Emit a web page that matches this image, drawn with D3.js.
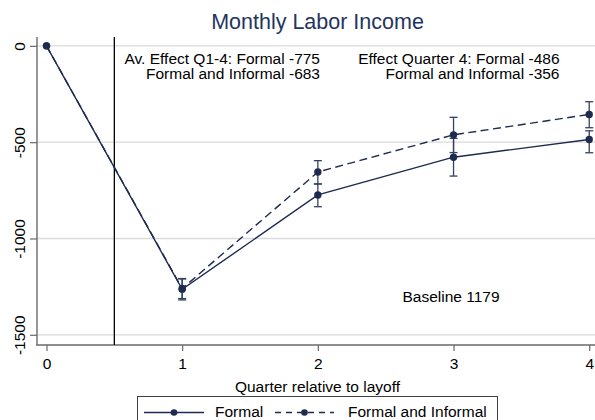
<!DOCTYPE html>
<html>
<head>
<meta charset="utf-8">
<script src="https://cdn.jsdelivr.net/npm/d3@7/dist/d3.min.js"></script>
<style>
  html, body { margin: 0; padding: 0; background: #fff; }
  svg { display: block; font-family: "Liberation Sans", Arial, sans-serif; }
</style>
</head>
<body>
<div id="graph"></div>
<script>
// data
const quarters = [0, 1, 2, 3, 4];
const xTicks = [0, 1, 2, 3, 4];
const yTicks = [0, -500, -1000, -1500];
const seriesNames = ["Formal", "Formal and Informal"];
const formal   = [0, -1264, -774, -578, -486];
const formalLo = [0, -1319, -835, -676, -555];
const formalHi = [0, -1210, -717, -480, -441];
const both     = [0, -1260, -655, -462, -356];
const bothLo   = [0, -1312, -717, -554, -425];
const bothHi   = [0, -1208, -596, -371, -290];
const titleText = "Monthly Labor Income";
const xTitle = "Quarter relative to layoff";
const noteLeft = ["Av. Effect Q1-4: Formal -775", "Formal and Informal -683"];
const noteRight = ["Effect Quarter 4: Formal -486", "Formal and Informal -356"];
const baselineNote = "Baseline 1179";
const layoffLine = 0.5;

const width = 595, height = 420;
const margin = { top: 37, right: 0, bottom: 75, left: 37 };
const navy = "#1d2b4f";
const fs = 15.5;
const fontFam = '"Liberation Sans", Arial, sans-serif';

const svg = d3.select("#graph").append("svg")
    .attr("width", width)
    .attr("height", height);

// scales
const x = d3.scaleLinear()
    .domain([-0.07, 4.05])
    .range([margin.left, width - margin.right + 1]);
const y = d3.scaleLinear()
    .domain([-1553, 46])
    .range([height - margin.bottom, margin.top]);

// gridlines
svg.append("g")
   .selectAll("line")
   .data(yTicks)
   .enter()
   .append("line")
   .attr("x1", margin.left)
   .attr("x2", width)
   .attr("y1", d => y(d))
   .attr("y2", d => y(d))
   .style("stroke", "#dadada")
   .style("stroke-width", 1.3);

// axes
const yAxis = d3.axisLeft(y).tickValues(yTicks).tickSize(7).tickSizeOuter(0);
const gy = svg.append("g")
   .attr("transform", `translate(${margin.left},0)`)
   .attr("font-family", fontFam)
   .call(yAxis);
gy.attr("font-family", fontFam);
gy.select(".domain").remove();
gy.selectAll(".tick line").style("stroke", "#6a6a6a").style("stroke-width", 1.2);
gy.selectAll(".tick text")
  .attr("transform", "rotate(-90)")
  .attr("x", 0)
  .attr("y", -12.5)
  .attr("dy", null)
  .style("text-anchor", "middle")
  .style("font-size", fs + "px")
  .style("fill", "#000")
  .text(d => String(d));

const xAxis = d3.axisBottom(x).tickValues(xTicks).tickSize(6).tickSizeOuter(0).tickFormat(d => String(d));
const gx = svg.append("g")
   .attr("transform", `translate(0,${height - margin.bottom})`)
   .call(xAxis);
gx.attr("font-family", fontFam);
gx.select(".domain").remove();
gx.selectAll(".tick line").style("stroke", "#6a6a6a").style("stroke-width", 1.2);
gx.selectAll(".tick text")
  .attr("y", 24)
  .attr("dy", null)
  .style("font-size", fs + "px")
  .style("fill", "#000");

// axis lines
svg.append("line")
   .attr("x1", margin.left).attr("x2", margin.left)
   .attr("y1", margin.top).attr("y2", height - margin.bottom + 0.6)
   .style("stroke", "#6a6a6a").style("stroke-width", 1.4);
svg.append("line")
   .attr("x1", margin.left - 0.6).attr("x2", width)
   .attr("y1", height - margin.bottom).attr("y2", height - margin.bottom)
   .style("stroke", "#6a6a6a").style("stroke-width", 1.4);

// layoff line
svg.append("line")
   .attr("x1", x(layoffLine)).attr("x2", x(layoffLine))
   .attr("y1", margin.top).attr("y2", height - margin.bottom)
   .style("stroke", "#000").style("stroke-width", 1.3);

// series
const series = [
  { name: seriesNames[0], vals: formal, lo: formalLo, hi: formalHi, dash: null },
  { name: seriesNames[1], vals: both, lo: bothLo, hi: bothHi, dash: "8,4.5" }
];

const line = d3.line().x(d => x(d.q)).y(d => y(d.v));

series.forEach(s => {
  const pts = quarters.map((q, i) => ({ q: q, v: s.vals[i], lo: s.lo[i], hi: s.hi[i] }));
  const g = svg.append("g");

  // error bars
  const bars = pts.filter(d => d.lo !== d.hi);
  g.selectAll("line.ci").data(bars).enter().append("line")
   .attr("x1", d => x(d.q)).attr("x2", d => x(d.q))
   .attr("y1", d => y(d.lo)).attr("y2", d => y(d.hi))
   .style("stroke", "#34425f").style("stroke-width", 1.3);
  [ "lo", "hi" ].forEach(k => {
    g.selectAll("line.cap" + k).data(bars).enter().append("line")
     .attr("x1", d => x(d.q) - 4).attr("x2", d => x(d.q) + 4)
     .attr("y1", d => y(d[k])).attr("y2", d => y(d[k]))
     .style("stroke", "#34425f").style("stroke-width", 1.3);
  });

  g.append("path")
   .datum(pts)
   .attr("d", line)
   .style("fill", "none")
   .style("stroke", navy)
   .style("stroke-width", 1.4)
   .style("stroke-dasharray", s.dash);

  g.selectAll("circle").data(pts).enter().append("circle")
   .attr("cx", d => x(d.q))
   .attr("cy", d => y(d.v))
   .attr("r", 3.7)
   .style("fill", navy);
});

// title
svg.append("text")
   .attr("x", 317.5).attr("y", 29)
   .style("text-anchor", "middle")
   .style("font-size", "21.5px")
   .style("fill", "#1f3560")
   .text(titleText);

svg.append("text")
   .attr("x", 317.5).attr("y", 392)
   .style("text-anchor", "middle")
   .style("font-size", fs + "px")
   .text(xTitle);

// annotations
const notes = [ { lines: noteLeft, xr: 320 }, { lines: noteRight, xr: 559.5 } ];
notes.forEach(n => {
  svg.append("g").selectAll("text").data(n.lines).enter().append("text")
     .attr("x", n.xr)
     .attr("y", (d, i) => 63.5 + i * 15.5)
     .style("text-anchor", "end")
     .style("font-size", fs + "px")
     .text(d => d);
});

svg.append("text")
   .attr("x", x(3) - 2.5).attr("y", 301.5)
   .style("text-anchor", "middle")
   .style("font-size", fs + "px")
   .text(baselineNote);

// legend
const leg = svg.append("g");
leg.append("rect")
   .attr("x", 137.5).attr("y", 396.5)
   .attr("width", 360).attr("height", 40)
   .style("fill", "#fff")
   .style("stroke", "#404040")
   .style("stroke-width", 1);

const legItems = [
  { name: series[0].name, x0: 144, x1: 204, tx: 215, dash: null },
  { name: series[1].name, x0: 275, x1: 334, tx: 348, dash: "6,5" }
];
legItems.forEach(it => {
  leg.append("line")
     .attr("x1", it.x0).attr("x2", it.x1)
     .attr("y1", 412.5).attr("y2", 412.5)
     .style("stroke", navy).style("stroke-width", 1.4)
     .style("stroke-dasharray", it.dash);
  leg.append("circle")
     .attr("cx", (it.x0 + it.x1) / 2).attr("cy", 412.5)
     .attr("r", 3.3).style("fill", navy);
  leg.append("text")
     .attr("x", it.tx).attr("y", 417)
     .style("font-size", fs + "px")
     .text(it.name);
});
</script>
</body>
</html>
